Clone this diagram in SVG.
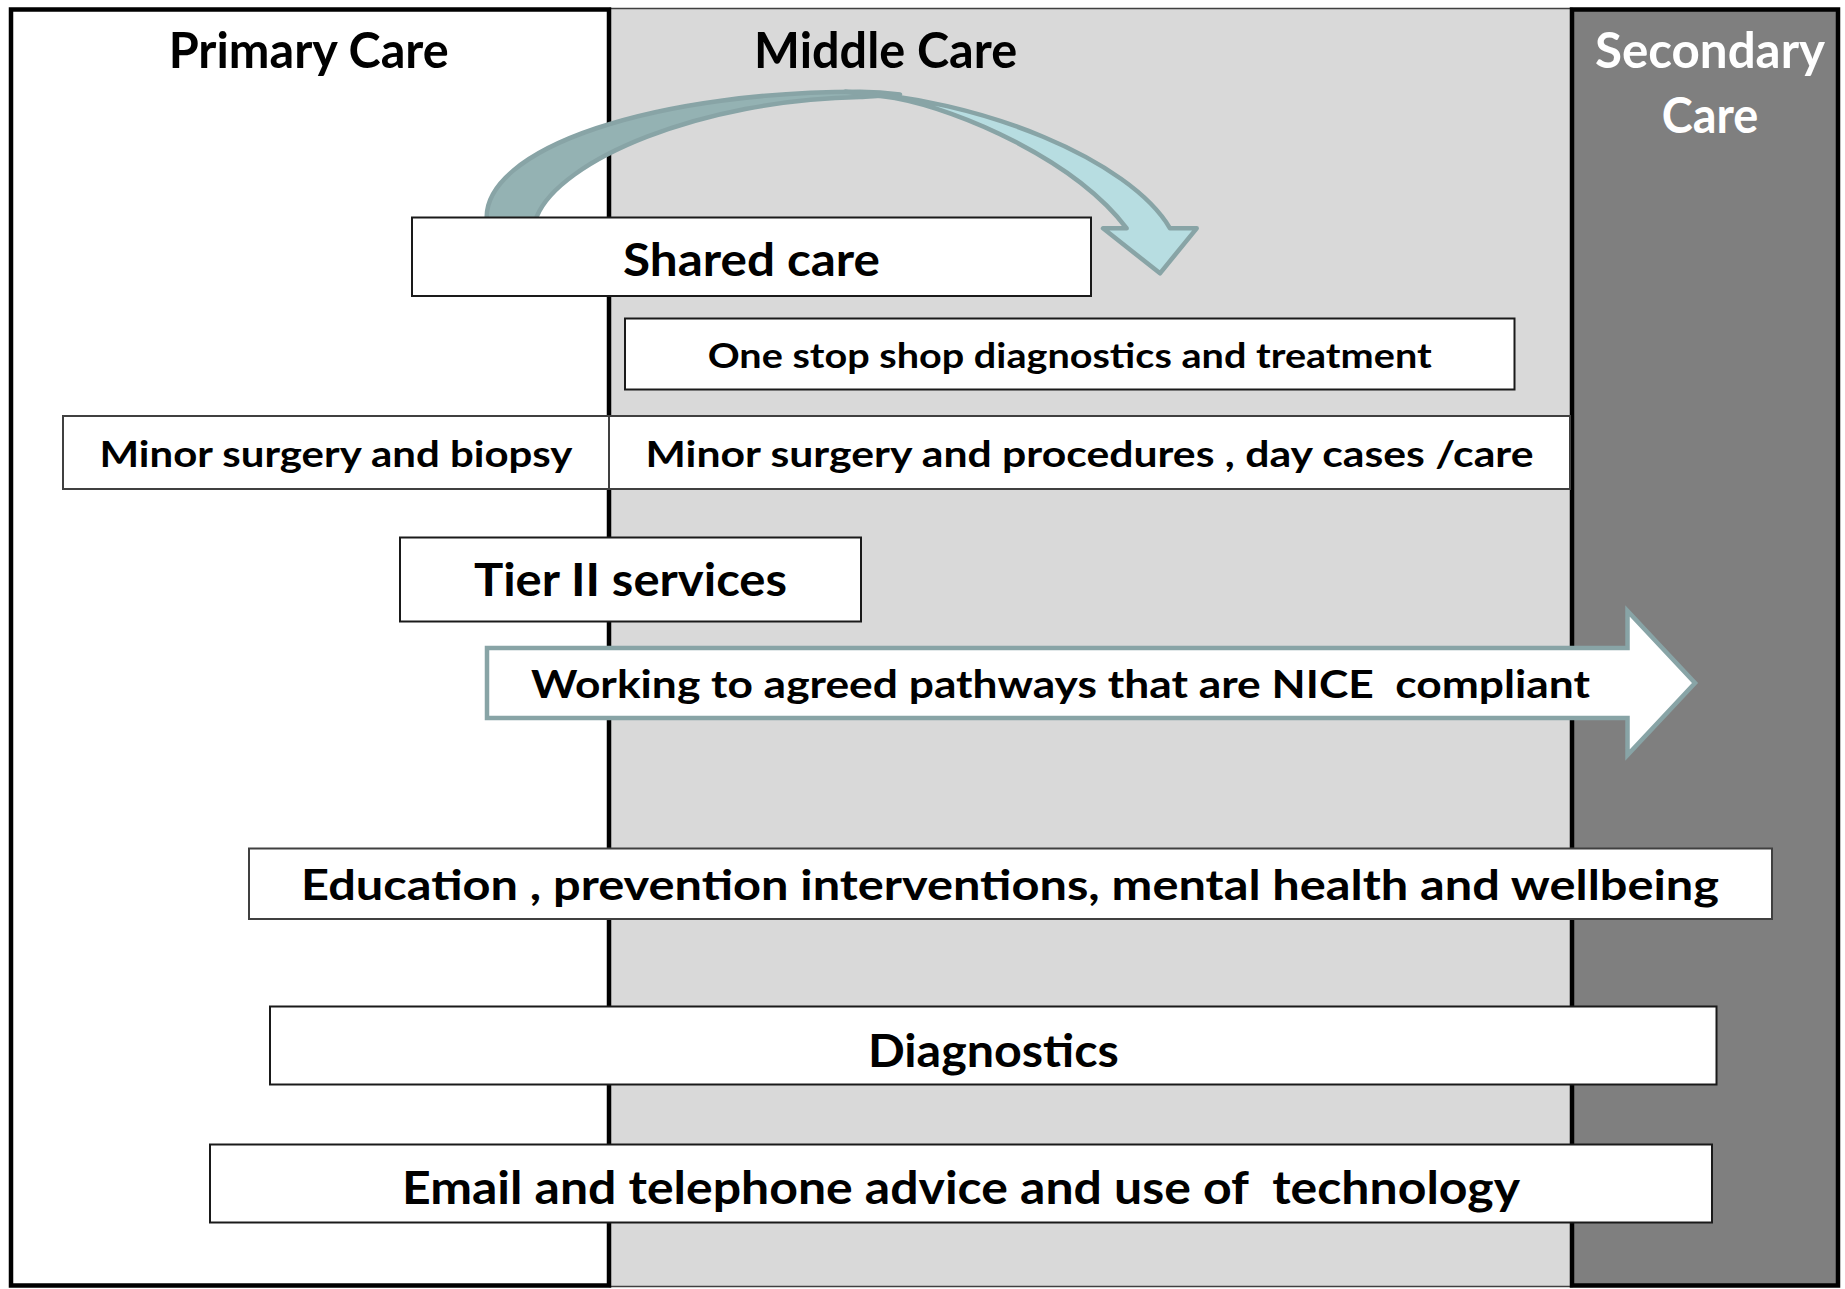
<svg xmlns="http://www.w3.org/2000/svg" width="1845" height="1289" viewBox="0 0 1845 1289">
<style>
text{font-family:Lato,"Open Sans","Liberation Sans",sans-serif;font-weight:bold;fill:#000;text-anchor:middle}
.box{fill:#fff;stroke:#1a1a1a;stroke-width:2}
.box2{fill:#fff;stroke:#404040;stroke-width:2}
.arr{stroke:#88a4a6;stroke-width:4.5;stroke-linejoin:miter}
.curve{stroke:#88a4a6;stroke-width:4.5;stroke-linejoin:round}
</style>
<g id="middle-care">
<rect x="610" y="8.5" width="962" height="1278" fill="#d9d9d9" stroke="#404040" stroke-width="1.5"/>
<text x="885.6" y="68.3" font-size="49" textLength="263" lengthAdjust="spacingAndGlyphs">Middle Care</text>
</g>
<g id="primary-care">
<rect x="11" y="9.5" width="598" height="1276" fill="#fff" stroke="#000" stroke-width="4.5"/>
<text x="308.7" y="68.3" font-size="49" textLength="280" lengthAdjust="spacingAndGlyphs">Primary Care</text>
</g>
<g id="secondary-care">
<rect x="1572" y="9.5" width="266" height="1276" fill="#7f7f7f" stroke="#000" stroke-width="4.5"/>
<text x="1710" y="68.3" font-size="49" style="fill:#fff" textLength="230" lengthAdjust="spacingAndGlyphs">Secondary</text>
<text x="1710" y="132.7" font-size="49" style="fill:#fff" textLength="96.5" lengthAdjust="spacingAndGlyphs">Care</text>
</g>
<g id="connectors">
<path class="curve" fill="#94b2b3" d="M486.7,220 L486.7,216.7 A373,125.3 0 0 1 860,91.7 C875,91.7 888,92.8 900,94.5 C880,95.5 870,96.5 860,97 C700,100 560,160 536.7,216.7 L536.7,220 Z"/>
<path class="curve" fill="#b7dde1" d="M845,91.8 C980,98 1130,160 1170,228.3 L1196.7,228.3 L1160,273.3 L1103,228.3 L1126.7,228.3 C1075,160 960,110 895,98 C875,95 860,93.5 845,91.8 Z"/>
</g>
<g id="shared-care">
<rect class="box" x="412" y="217.5" width="679" height="78.5"/>
<text x="751.5" y="276" font-size="46" textLength="257" lengthAdjust="spacingAndGlyphs">Shared care</text>
</g>
<g id="one-stop-shop">
<rect class="box" x="625" y="318.5" width="889.5" height="71"/>
<text x="1069.7" y="368" font-size="35" textLength="724" lengthAdjust="spacingAndGlyphs">One stop shop diagnostics and treatment</text>
</g>
<g id="minor-surgery-biopsy">
<rect class="box2" x="63" y="416" width="546" height="73"/>
<text x="336" y="466.7" font-size="37" textLength="473" lengthAdjust="spacingAndGlyphs">Minor surgery and biopsy</text>
</g>
<g id="minor-surgery-procedures">
<rect class="box2" x="609" y="416" width="961" height="73"/>
<text x="1089.5" y="466.7" font-size="37" textLength="888" lengthAdjust="spacingAndGlyphs">Minor surgery and procedures , day cases /care</text>
</g>
<g id="tier-ii">
<rect class="box" x="400" y="537.5" width="461" height="84"/>
<text x="630.5" y="596" font-size="45.6" textLength="313" lengthAdjust="spacingAndGlyphs">Tier II services</text>
</g>
<g id="pathways">
<path class="arr" fill="#fff" stroke-width="5.5" d="M487,648 L1627.5,648 L1627.5,611 L1695,683 L1627.5,755 L1627.5,718 L487,718 Z"/>
<text x="1060.5" y="698.3" font-size="39" xml:space="preserve" textLength="1059" lengthAdjust="spacingAndGlyphs">Working to agreed pathways that are NICE  compliant</text>
</g>
<g id="education">
<rect class="box2" x="249" y="848.5" width="1523" height="70.5"/>
<text x="1010" y="900" font-size="42" textLength="1418" lengthAdjust="spacingAndGlyphs">Education , prevention interventions, mental health and wellbeing</text>
</g>
<g id="diagnostics">
<rect class="box" x="270" y="1006.5" width="1446.5" height="78"/>
<text x="993.4" y="1066.7" font-size="46" textLength="251" lengthAdjust="spacingAndGlyphs">Diagnostics</text>
</g>
<g id="email">
<rect class="box" x="210" y="1144.5" width="1502" height="78"/>
<text x="961" y="1204.3" font-size="45.6" xml:space="preserve" textLength="1118" lengthAdjust="spacingAndGlyphs">Email and telephone advice and use of  technology</text>
</g>
</svg>
